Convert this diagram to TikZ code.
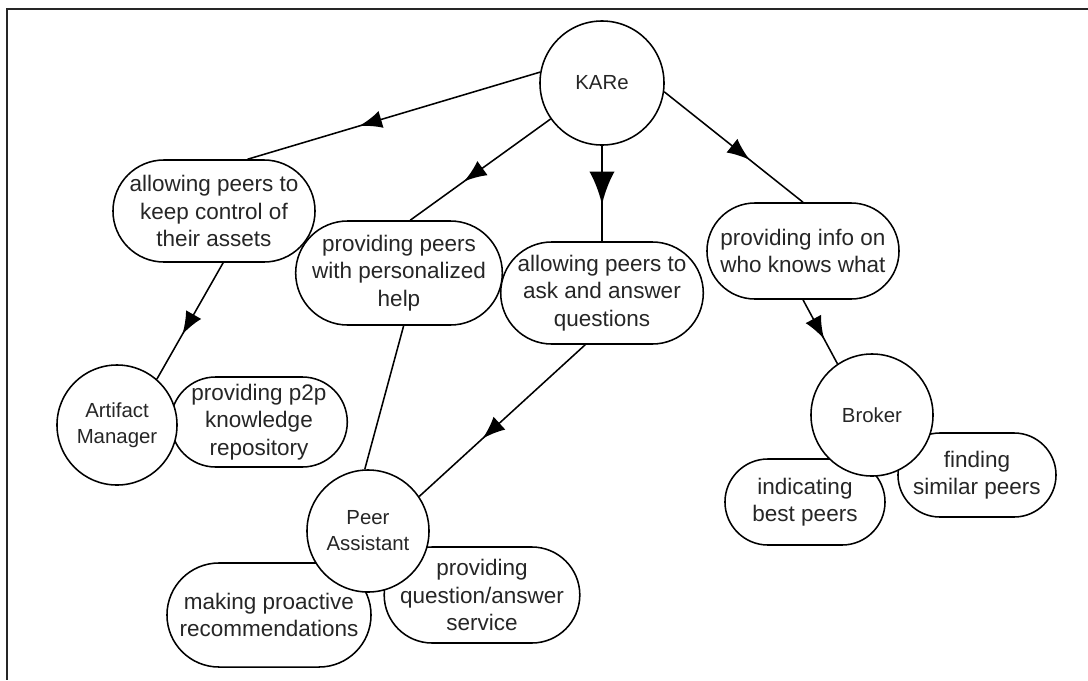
\documentclass[tikz,border=0pt]{standalone}
\usepackage{fontspec}
\setmainfont{Liberation Sans}
\usepackage{tikz}
\usetikzlibrary{%
  arrows,%
  calc,%
  shapes.misc,%
  decorations.markings%
}
\tikzset{>=latex,%
  goal/.style={draw,rounded rectangle,align=center,fill=white,
    line width=1.1pt,inner sep=0pt,text=black!85,
    font=\fontsize{16}{19.5}\selectfont},
  agent/.style={draw,circle,align=center,fill=white,
    line width=1.1pt,inner sep=0pt,text=black!85,
    font=\fontsize{14.5}{18.5}\selectfont},
  link/.style={line width=1.1pt},
  marrow/.style={postaction={decorate,decoration={markings,
    mark=at position 0.62 with {\arrow[scale=2.7]{latex}}}}}}

\begin{document}
\begin{tikzpicture}[x=0.025cm,y=-0.025cm]
      \useasboundingbox (0,0) rectangle (1088,680);
      \draw[line width=1.4pt,black!85] (1088,9) -- (7,9) -- (7,680);
      \node[goal,minimum width=5.05cm,minimum height=2.55cm] (control) at (214,211)
        {allowing peers to\\keep control of\\their assets};
      \node[goal,minimum width=4.9cm,minimum height=2.6cm] (help) at (399,273)
        {providing peers\\with personalized\\help};
      \node[goal,minimum width=4.8cm,minimum height=2.55cm] (ask) at (602,293)
        {allowing peers to\\ask and answer\\questions};
      \node[goal,minimum width=4.8cm,minimum height=2.4cm] (info) at (803,251)
        {providing info on\\who knows what};
      \node[goal,minimum width=4.3cm,minimum height=2.25cm] (repo) at (259,422)
        {providing p2p\\knowledge\\repository};
      \node[goal,minimum width=5.1cm,minimum height=2.6cm] (proactive) at (269,615)
        {making proactive\\recommendations};
      \node[goal,minimum width=4.8cm,minimum height=2.4cm] (qa) at (482,595)
        {providing\\question/answer\\service};
      \node[goal,minimum width=3.95cm,minimum height=2.1cm] (similar) at (977,475)
        {finding\\similar peers};
      \node[goal,minimum width=4cm,minimum height=2.15cm] (best) at (805,502)
        {indicating\\best peers};
      \node[agent,minimum size=3.1cm] (kare) at (602,83) {KARe};
      \node[agent,minimum size=3cm] (artifact) at (117,425) {Artifact\\Manager};
      \node[agent,minimum size=3.05cm] (assistant) at (368,531) {Peer\\Assistant};
      \node[agent,minimum size=3.05cm] (broker) at (872,415) {Broker};
      \draw[link,marrow] (kare.170) -- (control.57);
      \draw[link,marrow] (kare.215) -- (help.78);
      \draw[line width=2pt,marrow] (kare.south) -- (ask.north);
      \draw[link,marrow] (kare.-8) -- (info.north);
      \draw[link,marrow] (control.-80) -- (artifact.49);
      \draw[link] (help.-85) -- (assistant.93);
      \draw[link,marrow] (ask.252) -- (assistant.34);
      \draw[link,marrow] (info.south) -- (broker.124);
    \end{tikzpicture}
\end{document}
